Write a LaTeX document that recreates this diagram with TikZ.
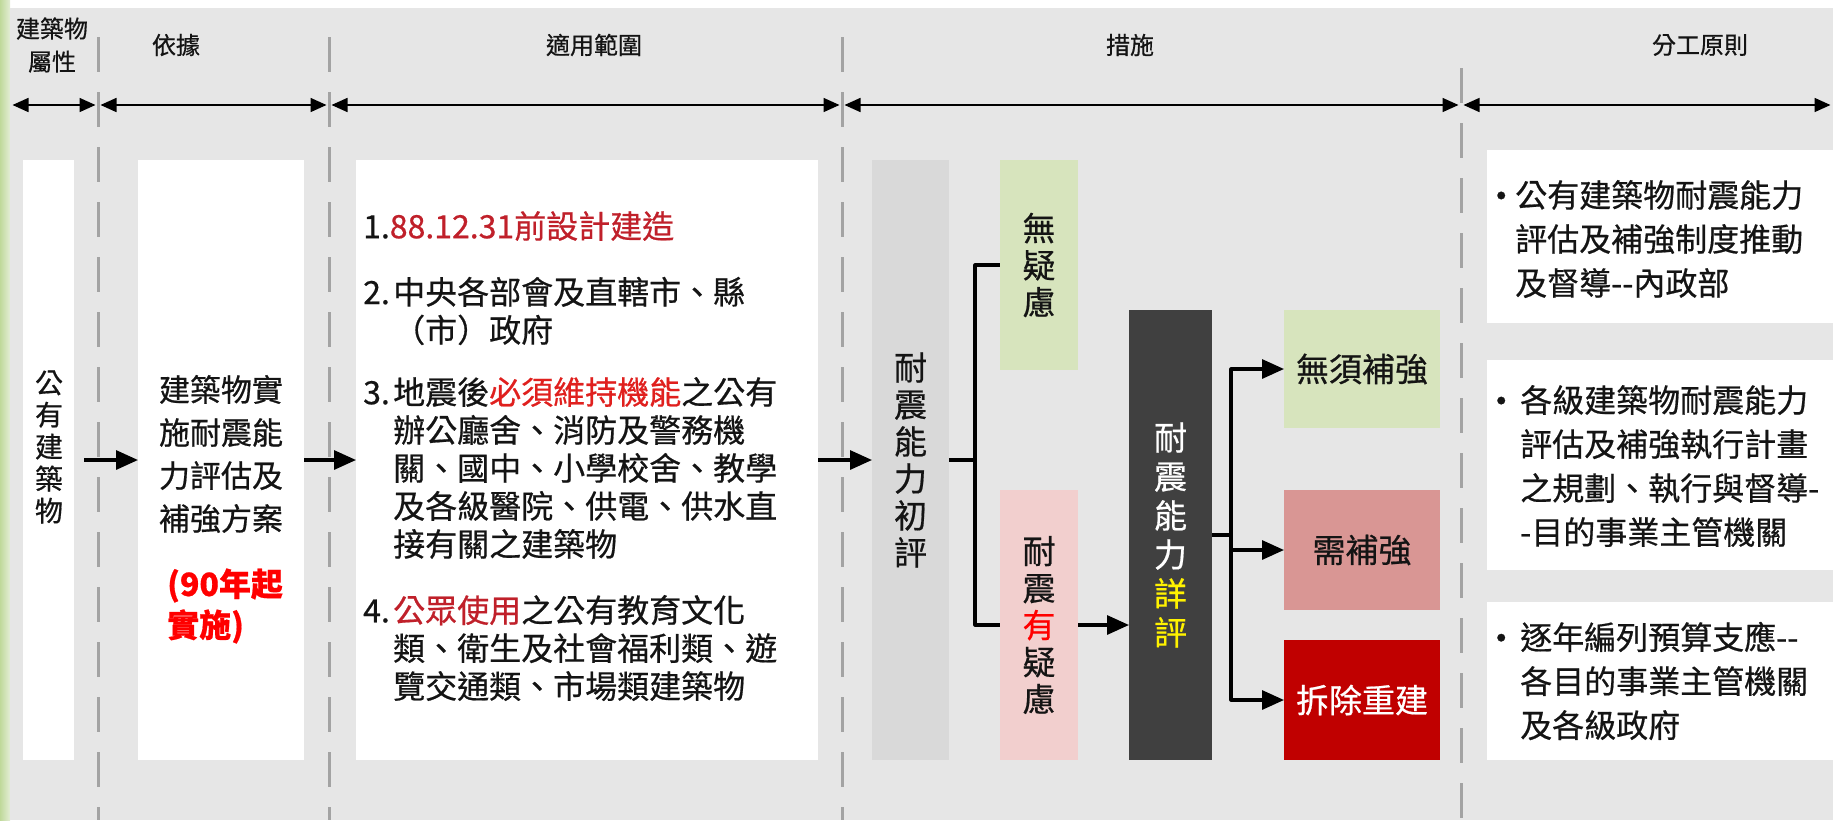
\documentclass[tikz,border=0pt]{standalone}
\usepackage{fontspec}
\newfontfamily\zh{Noto Sans CJK TC}[FakeBold=0.6]
\usetikzlibrary{arrows.meta}
\definecolor{bggray}{HTML}{E6E6E6}
\definecolor{sepgray}{HTML}{A3A3A3}
\definecolor{leafA}{HTML}{BFD99A}
\definecolor{leafB}{HTML}{E3EDD5}
\definecolor{initgray}{HTML}{D9D9D9}
\definecolor{okgreen}{HTML}{D7E4BD}
\definecolor{doubtpink}{HTML}{F2CFCE}
\definecolor{fixpink}{HTML}{D99694}
\definecolor{rebuildred}{HTML}{C00000}
\definecolor{darkbox}{HTML}{404040}
\definecolor{textred}{HTML}{C0202A}
\definecolor{brightred}{HTML}{FF0000}
\definecolor{mustred}{HTML}{E0201E}
\definecolor{ink}{HTML}{141414}
\newcommand{\bul}[1]{\makebox[#1pt][l]{\hspace{4pt}\makebox[0pt]{\raisebox{-2pt}{\fontsize{36}{36}\selectfont •}}}}
\begin{document}
\begin{tikzpicture}[x=1pt,y=-1pt,line join=round,
	cell/.style={anchor=north west,inner sep=0pt,outer sep=0pt,align=center},
	vtext/.style={align=center,inner sep=0pt,text=ink,font=\zh\fontsize{33}{37}\selectfont},
	para/.style={anchor=west,align=left,inner sep=0pt,text=ink,font=\zh\fontsize{32}{38}\selectfont},
	duty/.style={para,font=\zh\fontsize{32}{44}\selectfont},
	head/.style={align=center,inner sep=0pt,text=ink,font=\zh\fontsize{24}{33}\selectfont},
	divider/.style={draw=sepgray,line width=3pt,dash pattern=on 35pt off 20pt},
	hspan/.style={>={Triangle[length=16pt,width=14pt]},<->,line width=1.6pt,shorten <=2.5pt,shorten >=2.5pt},
	flow/.style={line width=3.2pt,>={Triangle[length=22pt,width=19pt]}}]
	%nền
	\useasboundingbox (0,0) rectangle (1833,820);
	\fill[white] (0,0) rectangle (1833,820);
	\shade[left color=leafA,right color=leafB] (0,0) rectangle (10,820);
	\fill[bggray] (10,8) rectangle (1833,820);
	%đường chia cột
	\foreach \x/\s in {98/37,329/37,842/37,1461/68} \draw[divider] (\x,\s)--(\x,820);
	%tiêu đề
	\node[head] (hattr) at (52,45) {建築物\\屬性};
	\node[head] (hbasis) at (176,45) {依據};
	\node[head] (hscope) at (594,45) {適用範圍};
	\node[head] (hact) at (1130,45) {措施};
	\node[head] (hduty) at (1700,45) {分工原則};
	\foreach \i/\x in {0/10,1/98,2/329,3/842,4/1461,5/1833} \coordinate (s\i) at (\x,105);
	\foreach \i/\j in {0/1,1/2,2/3,3/4,4/5} \draw[hspan] (s\i)--(s\j);
	%cột trái
	\node[cell,fill=white,minimum width=51,minimum height=600] (pub) at (23,160) {};
	\node[vtext,font=\zh\fontsize{28}{32}\selectfont] (pubt) at (49,447) {公\\有\\建\\築\\物};
	\node[cell,fill=white,minimum width=166,minimum height=600] (plan) at (138,160) {};
	\node[vtext,font=\zh\fontsize{31}{43}\selectfont] (plant) at (221,454) {建築物實\\施耐震能\\力評估及\\補強方案};
	\node[anchor=west,align=left,inner sep=0pt,text=brightred,font=\zh\bfseries\fontsize{32}{41}\selectfont] (planyr) at (167,606) {(90年起\\實施)};
	%適用範圍
	\node[cell,fill=white,minimum width=462,minimum height=600] (scope) at (356,160) {};
	\node[para] (sc1) at (363,226) {1.\textcolor{textred}{88.12.31前設計建造}};
	\node[para] (sc2) at (363,311) {\makebox[30pt][l]{2.}中央各部會及直轄市、縣\\\hspace*{30pt}（市）政府};
	\node[para] (sc3) at (363,468) {\makebox[30pt][l]{3.}地震後\textcolor{mustred}{必須維持機能}之公有\\\hspace*{30pt}辦公廳舍、消防及警務機\\\hspace*{30pt}關、國中、小學校舍、教學\\\hspace*{30pt}及各級醫院、供電、供水直\\\hspace*{30pt}接有關之建築物};
	\node[para] (sc4) at (363,648) {\makebox[30pt][l]{4.}\textcolor{textred}{公眾使用}之公有教育文化\\\hspace*{30pt}類、衛生及社會福利類、遊\\\hspace*{30pt}覽交通類、市場類建築物};
	%措施
	\node[cell,vtext,fill=initgray,minimum width=77,minimum height=600] (init) at (872,160) {耐\\震\\能\\力\\初\\評};
	\node[cell,vtext,fill=okgreen,minimum width=78,minimum height=210] (noq) at (1000,160) {無\\疑\\慮};
	\node[cell,vtext,fill=doubtpink,minimum width=78,minimum height=270] (doubt) at (1000,490) {耐\\震\\\textcolor{brightred}{有}\\疑\\慮};
	\node[cell,vtext,fill=darkbox,text=white,minimum width=83,minimum height=450,font=\zh\fontsize{33}{39}\selectfont] (detail) at (1129,310) {耐\\震\\能\\力\\\textcolor{yellow}{詳}\\\textcolor{yellow}{評}};
	\node[cell,fill=okgreen,text=ink,minimum width=156,minimum height=118,font=\zh\fontsize{33}{38}\selectfont] (nofix) at (1284,310) {無須補強};
	\node[cell,fill=fixpink,text=ink,minimum width=156,minimum height=120,font=\zh\fontsize{33}{38}\selectfont] (fix) at (1284,490) {需補強};
	\node[cell,fill=rebuildred,text=white,minimum width=156,minimum height=120,font=\zh\fontsize{33}{38}\selectfont] (rebuild) at (1284,640) {拆除重建};
	%分工原則
	\node[cell,fill=white,minimum width=346,minimum height=173] (duty1box) at (1487,150) {};
	\node[cell,fill=white,minimum width=346,minimum height=210] (duty2box) at (1487,360) {};
	\node[cell,fill=white,minimum width=346,minimum height=158] (duty3box) at (1487,602) {};
	\node[duty] (duty1) at (1497,239) {\bul{18}公有建築物耐震能力\\\hspace*{18pt}評估及補強制度推動\\\hspace*{18pt}及督導--內政部};
	\node[duty] (duty2) at (1497,466) {\bul{23}各級建築物耐震能力\\\hspace*{23pt}評估及補強執行計畫\\\hspace*{23pt}之規劃、執行與督導-\\\hspace*{23pt}-目的事業主管機關};
	\node[duty] (duty3) at (1497,681) {\bul{23}逐年編列預算支應--\\\hspace*{23pt}各目的事業主管機關\\\hspace*{23pt}及各級政府};
	%mũi tên
	\draw[flow,->,shorten <=10pt] (pub.east) -- (plan.west);
	\draw[flow,->] (plan.east) -- (scope.west);
	\draw[flow,->] (scope.east) -- (init.west);
	\draw[flow] (init.east) -- ++(26,0) coordinate (fork1) |- (noq.west);
	\draw[flow] (fork1) |- (doubt.west);
	\draw[flow,->] (doubt.east) -- (doubt.east -| detail.west);
	\draw[flow] (detail.east) -- ++(19,0) coordinate (fork2);
	\foreach \n in {nofix,fix,rebuild} \draw[flow,->] (fork2) |- (\n.west);
\end{tikzpicture}
\end{document}
